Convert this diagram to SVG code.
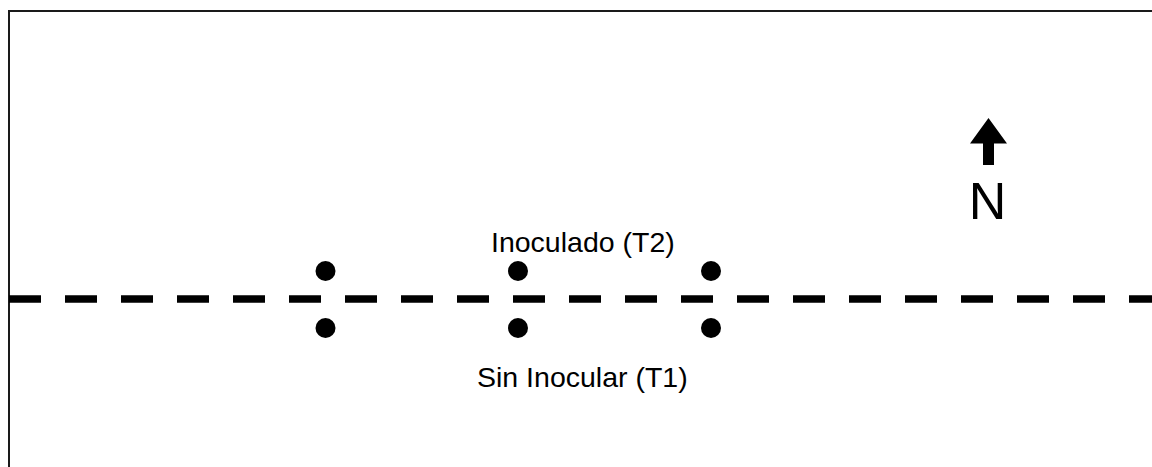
<svg xmlns="http://www.w3.org/2000/svg" width="1152" height="467" viewBox="0 0 1152 467">
  <style>
    .frame { fill: none; stroke: #1a1a1a; stroke-width: 2; }
    .row { stroke: #000; stroke-width: 7.5; stroke-dasharray: 32 24; fill: none; }
    .plant { fill: #000; }
    .label { font-family: "Liberation Sans", Arial, sans-serif; font-size: 28.5px; fill: #000; }
    .north { font-family: "Liberation Sans", Arial, sans-serif; font-size: 52px; fill: #000; }
  </style>
  <rect width="1152" height="467" fill="#fff"/>
  <!-- plot frame: top and left edges -->
  <path class="frame" d="M9,467 V11 H1152"/>

  <g id="connectors">
    <!-- planting row -->
    <line class="row" x1="9" y1="299" x2="1152" y2="299"/>
  </g>

  <g id="plants-t2">
    <circle class="plant" cx="325.5" cy="271" r="10"/>
    <circle class="plant" cx="518" cy="271" r="10"/>
    <circle class="plant" cx="711" cy="271" r="10"/>
  </g>
  <g id="plants-t1">
    <circle class="plant" cx="325.5" cy="328" r="10"/>
    <circle class="plant" cx="518" cy="328" r="10"/>
    <circle class="plant" cx="711" cy="328" r="10"/>
  </g>

  <g id="label-t2">
    <text class="label" x="491" y="252">Inoculado (T2)</text>
  </g>
  <g id="label-t1">
    <text class="label" x="477" y="387">Sin Inocular (T1)</text>
  </g>

  <g id="north">
    <path class="plant" d="M988.5,118 L1007,143.5 L994,143.5 L994,165 L983,165 L983,143.5 L970,143.5 Z"/>
    <text class="north" x="987.5" y="219" text-anchor="middle">N</text>
  </g>
</svg>
